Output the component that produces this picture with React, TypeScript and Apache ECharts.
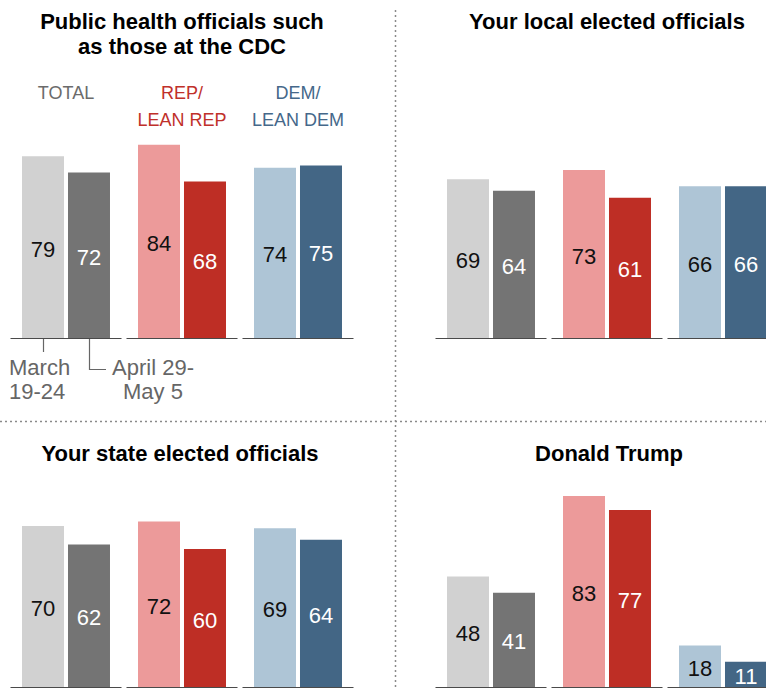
import React, { useEffect, useRef } from "react";
import * as echarts from "echarts";

// ---- data ----
const categories = ["TOTAL", "REP/\nLEAN REP", "DEM/\nLEAN DEM"];
const panelTitles = [
  "Public health officials such\nas those at the CDC",
  "Your local elected officials",
  "Your state elected officials",
  "Donald Trump",
];
const cdcMarch = [79, 84, 74];
const cdcApril = [72, 68, 75];
const localMarch = [69, 73, 66];
const localApril = [64, 61, 66];
const stateMarch = [70, 72, 69];
const stateApril = [62, 60, 64];
const trumpMarch = [48, 83, 18];
const trumpApril = [41, 77, 11];
const waveLabels = ["March\n19-24", "April 29-\nMay 5"];

const marchColors = ["#d1d1d1", "#ec9a9a", "#aec5d6"];
const aprilColors = ["#747474", "#be2e25", "#436685"];
const catColors = ["#6b6b6b", "#c0302a", "#45688a"];

const FONT = "'Liberation Sans', Arial, sans-serif";

const panels = [
  { march: cdcMarch, april: cdcApril },
  { march: localMarch, april: localApril },
  { march: stateMarch, april: stateApril },
  { march: trumpMarch, april: trumpApril },
];

const gridPos = [
  { left: 8, top: 108 },
  { left: 433, top: 108 },
  { left: 8, top: 457 },
  { left: 433, top: 457 },
];
const GRID_W = 348;
const GRID_H = 230;
const titlePos = [
  { x: 182, y: 9 },
  { x: 607, y: 9 },
  { x: 180, y: 441 },
  { x: 609, y: 441 },
];

export default function App() {
  const ref = useRef<HTMLDivElement>(null);
  useEffect(() => {
    document.body.style.margin = "0";
    if (!ref.current) return;
    const chart = echarts.init(ref.current, undefined, { renderer: "svg" });

    const grids = gridPos.map((g) => ({ left: g.left, top: g.top, width: GRID_W, height: GRID_H }));
    const xAxes = gridPos.map((_, i) => ({
      type: "category",
      gridIndex: i,
      data: categories,
      position: "top",
      axisLine: { show: false },
      axisTick: { show: false },
      axisLabel: {
        show: i === 0,
        interval: 0,
        margin: 29,
        verticalAlign: "top",
        formatter: (v: string, idx: number) =>
          v.split("\n").map((s) => `{c${idx}|${s}}`).join("\n"),
        rich: {
          c0: { color: catColors[0], fontSize: 18, fontFamily: FONT, lineHeight: 27 },
          c1: { color: catColors[1], fontSize: 18, fontFamily: FONT, lineHeight: 27 },
          c2: { color: catColors[2], fontSize: 18, fontFamily: FONT, lineHeight: 27 },
        },
      },
    }));
    const yAxes = gridPos.map((_, i) => ({
      type: "value",
      gridIndex: i,
      min: 0,
      max: 100,
      show: false,
      splitLine: { show: false },
    }));

    const series: any[] = [];
    panels.forEach((p, i) => {
      const mk = (vals: number[], colors: string[], labelColor: string) => ({
        type: "bar",
        xAxisIndex: i,
        yAxisIndex: i,
        barWidth: 42,
        barGap: "9.5%",
        data: vals.map((v, k) => ({ value: v, itemStyle: { color: colors[k] } })),
        label: {
          show: true,
          position: "inside",
          offset: [0, 2],
          color: labelColor,
          fontSize: 22,
          fontFamily: FONT,
        },
        z: 2,
      });
      series.push(mk(p.march, marchColors, "#111"));
      series.push(mk(p.april, aprilColors, "#ffffff"));
      series.push({
        type: "custom",
        xAxisIndex: i,
        yAxisIndex: i,
        data: categories.map((_, k) => [k]),
        z: 3,
        silent: true,
        renderItem: (params: any, api: any) => {
          const idx = api.value(0);
          const pt = api.coord([idx, 0]);
          const w = api.size([1, 0])[0];
          return {
            type: "line",
            shape: { x1: pt[0] - w / 2 + 2.5, y1: pt[1] + 0.5, x2: pt[0] + w / 2 - 2.5, y2: pt[1] + 0.5 },
            style: { stroke: "#4a4a4a", lineWidth: 1.2 },
          };
        },
      });
    });

    // annotation connectors computed from grid layout
    const band = GRID_W / categories.length;
    const c0 = gridPos[0].left + band / 2;
    const bar1x = c0 - 23;
    const bar2x = c0 + 23;
    const baseY = gridPos[0].top + GRID_H;

    const graphic: any[] = [
      ...panelTitles.map((t, i) => ({
        type: "text",
        x: titlePos[i].x,
        y: titlePos[i].y,
        style: {
          text: t,
          align: "center",
          verticalAlign: "top",
          fontFamily: FONT,
          fontWeight: "bold",
          fontSize: 22,
          lineHeight: 25,
          fill: "#000",
        },
      })),
      {
        type: "line",
        shape: { x1: 395.5, y1: 10, x2: 395.5, y2: 689 },
        style: { stroke: "#8a8a8a", lineWidth: 1.5, lineDash: [2, 3] },
      },
      {
        type: "line",
        shape: { x1: 0, y1: 421.5, x2: 766, y2: 421.5 },
        style: { stroke: "#8a8a8a", lineWidth: 1.5, lineDash: [2, 3] },
      },
      {
        type: "line",
        shape: { x1: Math.round(bar1x) + 0.5, y1: baseY, x2: Math.round(bar1x) + 0.5, y2: baseY + 14 },
        style: { stroke: "#666", lineWidth: 1.2 },
      },
      {
        type: "polyline",
        shape: {
          points: [
            [Math.round(bar2x) + 0.5, baseY],
            [Math.round(bar2x) + 0.5, baseY + 31.5],
            [bar2x + 17, baseY + 31.5],
          ],
        },
        style: { stroke: "#666", lineWidth: 1.2, fill: null },
      },
      {
        type: "text",
        x: 9,
        y: 355,
        style: {
          text: waveLabels[0],
          align: "left",
          verticalAlign: "top",
          fontFamily: FONT,
          fontSize: 22,
          lineHeight: 24.6,
          fill: "#666",
        },
      },
      {
        type: "text",
        x: 153,
        y: 355,
        style: {
          text: waveLabels[1],
          align: "center",
          verticalAlign: "top",
          fontFamily: FONT,
          fontSize: 22,
          lineHeight: 24.6,
          fill: "#666",
        },
      },
    ];

    chart.setOption({
      animation: false,
      backgroundColor: "#ffffff",
      grid: grids,
      xAxis: xAxes,
      yAxis: yAxes,
      series,
      graphic,
    });
    return () => chart.dispose();
  }, []);
  return (
    <div style={{ width: 766, height: 689, overflow: "hidden", position: "relative" }}>
      <div ref={ref} style={{ width: 800, height: 689 }} />
    </div>
  );
}
